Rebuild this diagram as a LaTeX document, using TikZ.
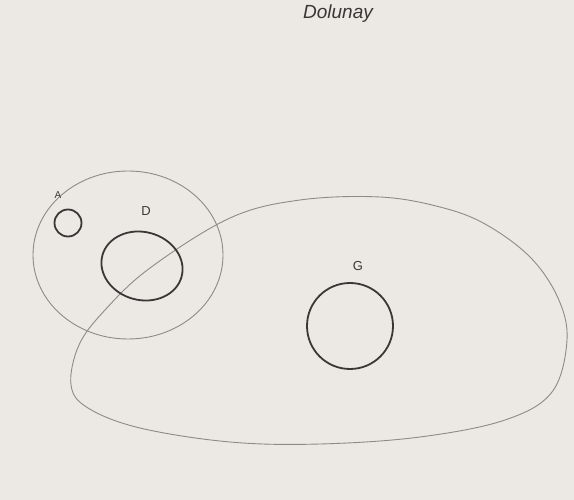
\documentclass[tikz,border=0pt]{standalone}
\usepackage{fontspec}
\setmainfont{Liberation Sans}
\usetikzlibrary{shapes.geometric}
\definecolor{paper}{HTML}{ECE9E4}
\definecolor{ink}{HTML}{3A3836}
\definecolor{pencil}{HTML}{8E8B87}
\begin{document}
\begin{tikzpicture}[x=1pt,y=-1pt,
  thick ring/.style={draw=ink,line width=1.8pt,inner sep=0pt},
  thin ring/.style={draw=pencil,line width=0.9pt,inner sep=0pt},
  lbl/.style={text=ink,font=\fontsize{13}{13}\selectfont}]
\fill[paper] (0,0) rectangle (574,500);
\useasboundingbox (0,0) rectangle (574,500);
\node[text=ink,font=\fontsize{19}{19}\selectfont\itshape] (title) at (338,14) {Dolunay};
% big blob
\draw[pencil,line width=0.9pt] plot[smooth cycle,tension=0.6] coordinates {
 (71,385) (79,345) (105,310) (150,268) (230,218) (300,200) (380,197)
 (440,207) (485,224) (530,257) (558,298) (567,340) (552,392) (505,420)
 (420,437) (320,444) (230,442) (140,428) (88,408)};
% big ring
\node[thin ring,ellipse,minimum width=190pt,minimum height=168pt] (ring) at (128,255) {};
% A
\node[thick ring,circle,minimum size=27pt] (A) at (68,223) {};
\node[lbl,font=\fontsize{10}{10}\selectfont] (Alab) at (58,195) {A};
% D
\node[thick ring,ellipse,minimum width=82pt,minimum height=68pt,rotate=-15] (D) at (142,266) {};
\node[lbl] (Dlab) at (146,211) {D};
% G
\node[thick ring,circle,minimum size=86pt] (G) at (350,326) {};
\node[lbl] (Glab) at (358,266) {G};
\end{tikzpicture}
\end{document}
